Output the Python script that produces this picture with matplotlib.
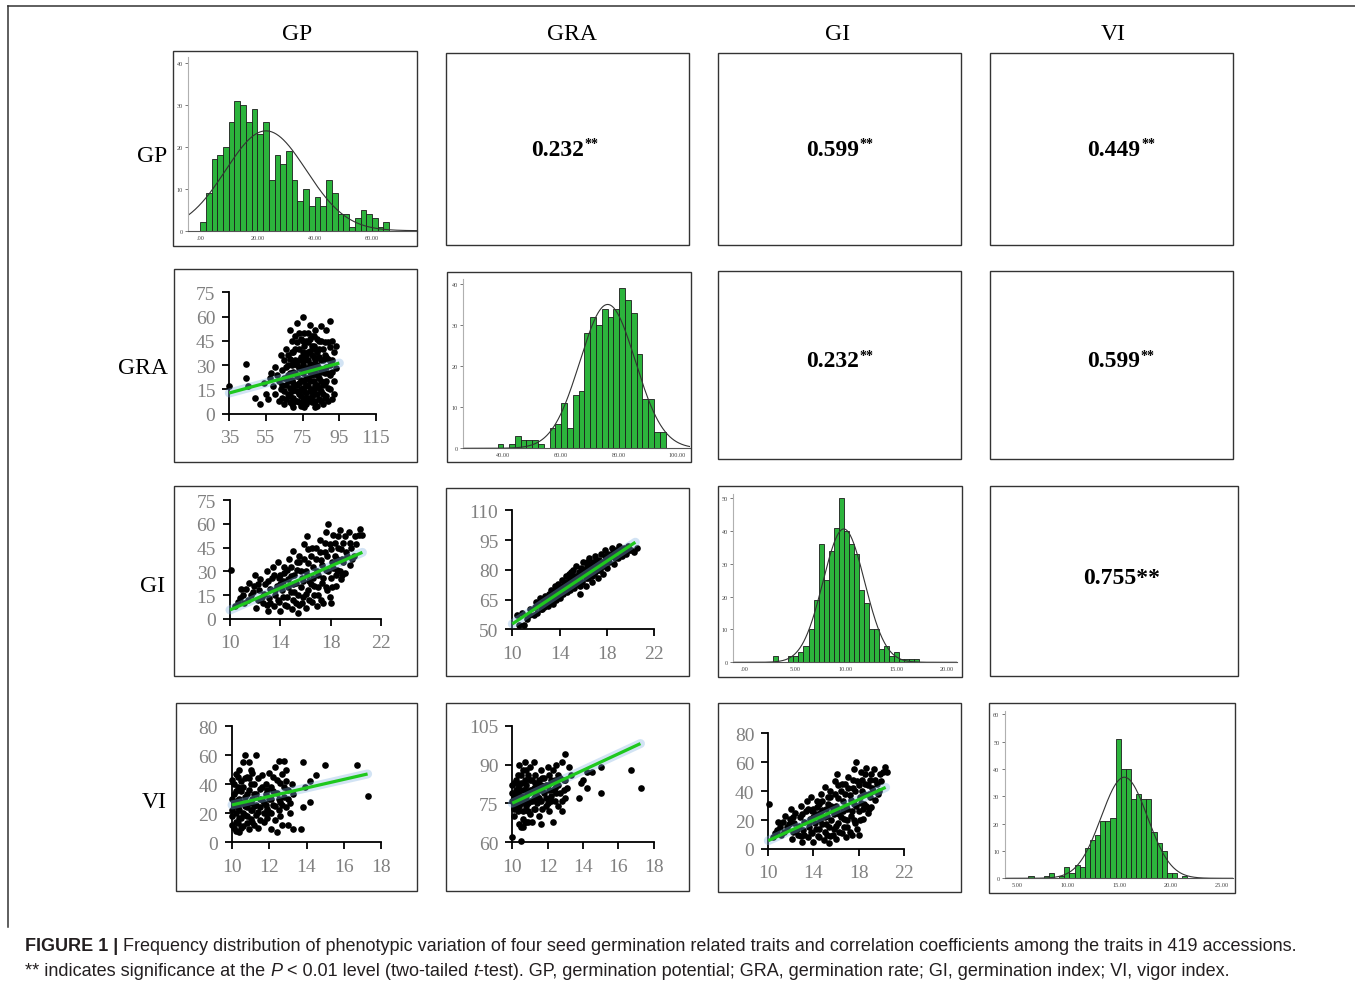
import numpy as np
import matplotlib.pyplot as plt
from matplotlib.patches import Rectangle
from matplotlib.lines import Line2D

# ---------------- data ----------------
traits = ["GP", "GRA", "GI", "VI"]
n_acc = 419

# histograms (counts per bin), bin start, bin width, normal-curve mean / sd
gp_counts = [2, 9, 17, 18, 20, 26, 31, 30, 26, 29, 23, 26, 12, 18, 16, 19, 12, 7, 10, 6,
             8, 6, 12, 9, 4, 4, 1, 3, 5, 4, 3, 1, 2]
gp_start, gp_bw, gp_mu, gp_sd = 0.0, 2.0, 23.0, 14.05

gra_counts = [1, 0, 1, 3, 2, 2, 2, 1, 0, 5, 6, 11, 5, 13, 14, 28, 32, 30, 34, 32, 34, 39,
              36, 33, 23, 12, 12, 4, 4]
gra_start, gra_bw, gra_mu, gra_sd = 38.0, 2.0, 76.0, 9.55

gi_counts = [2, 0, 0, 2, 2, 3, 5, 10, 19, 36, 25, 34, 41, 50, 40, 36, 33, 22, 18, 10,
             10, 4, 5, 2, 3, 1, 1, 1, 1]
gi_start, gi_bw, gi_mu, gi_sd = 2.8, 0.5, 9.8, 2.06

vi_counts = [1, 0, 0, 1, 2, 0, 1, 4, 2, 5, 4, 11, 14, 16, 21, 21, 22, 51, 40, 40, 29, 31,
             29, 29, 17, 13, 10, 2, 2, 0, 1]
vi_start, vi_bw, vi_mu, vi_sd = 6.15, 0.5, 15.5, 2.26

# correlation coefficients (upper triangle)
corr_gp_gra, corr_gp_gi, corr_gp_vi = "0.232", "0.599", "0.449"
corr_gra_gi, corr_gra_vi = "0.232", "0.599"
corr_gi_vi = "0.755"

# scatter points (x, y)
gra_gp_pts = [(35, 17), (44, 31), (44, 22), (45, 17), (49, 10), (52, 6), (54, 19), (55, 12), (56, 9),
              (57, 22), (58, 25), (59, 17), (60, 29), (60, 12), (61, 24), (62, 20), (62, 8), (63, 36),
              (63, 15), (64, 27), (64, 10), (65, 33), (65, 6), (65, 22), (66, 18), (66, 29), (67, 12),
              (67, 36), (67, 24), (68, 7), (68, 52), (68, 16), (69, 30), (69, 21), (69, 45), (70, 10),
              (70, 26), (70, 38), (70, 4), (71, 18), (71, 48), (71, 33), (72, 14), (72, 56), (72, 23),
              (72, 8), (73, 40), (73, 28), (73, 19), (74, 11), (74, 35), (74, 46), (74, 5), (75, 60),
              (75, 25), (75, 16), (75, 31), (76, 42), (76, 9), (76, 20), (76, 50), (77, 13), (77, 36),
              (77, 28), (77, 6), (78, 44), (78, 22), (78, 17), (78, 33), (79, 55), (79, 10), (79, 39),
              (79, 26), (80, 48), (80, 15), (80, 30), (80, 7), (81, 20), (81, 42), (81, 35), (82, 12),
              (82, 52), (82, 25), (82, 4), (83, 38), (83, 18), (83, 30), (84, 45), (84, 9), (84, 22),
              (85, 54), (85, 33), (85, 14), (86, 27), (86, 40), (86, 6), (87, 19), (87, 36), (88, 52),
              (88, 11), (88, 29), (89, 44), (89, 16), (90, 57), (90, 41), (90, 24), (91, 9), (91, 33),
              (92, 20), (93, 42), (93, 28),
              (64, 18), (65, 14), (66, 9), (66, 40), (67, 20), (67, 30), (68, 25), (68, 11), (68, 34),
              (69, 14), (69, 38), (69, 6), (70, 19), (70, 32), (70, 15), (71, 8), (71, 25), (71, 40),
              (72, 30), (72, 18), (72, 44), (73, 12), (73, 33), (73, 7), (73, 50), (74, 21), (74, 28),
              (74, 15), (75, 8), (75, 38), (75, 45), (75, 20), (76, 14), (76, 27), (76, 33), (76, 4),
              (77, 18), (77, 45), (77, 22), (77, 10), (78, 8), (78, 28), (78, 38), (78, 50), (79, 14),
              (79, 20), (79, 31), (79, 46), (80, 24), (80, 36), (80, 11), (80, 42), (81, 7), (81, 15),
              (81, 28), (81, 48), (82, 18), (82, 33), (82, 40), (82, 8), (83, 24), (83, 12), (83, 46),
              (83, 5), (84, 16), (84, 28), (84, 35), (84, 40), (85, 20), (85, 8), (85, 26), (85, 45),
              (86, 12), (86, 33), (86, 18), (87, 25), (87, 10), (87, 44), (88, 20), (88, 35), (89, 8),
              (89, 25), (89, 34), (90, 15), (90, 30), (91, 26), (91, 45), (92, 12), (92, 38)]
gra_gp_trend = ([35, 95], [12.8, 31.3])

gi_gp_pts = [(10.1, 31), (10.4, 8), (10.6, 11), (10.8, 13), (10.9, 19), (11.1, 10), (11.3, 19), (11.5, 23),
             (11.7, 15), (11.9, 21), (12.0, 28), (12.1, 7), (12.2, 12), (12.3, 18), (12.4, 25), (12.6, 10),
             (12.7, 16), (12.8, 22), (12.9, 30), (13.0, 5), (13.1, 13), (13.2, 19), (13.3, 26), (13.4, 33),
             (13.5, 8), (13.6, 15), (13.7, 21), (13.8, 36), (13.9, 11), (14.0, 28), (14.0, 5), (14.1, 18),
             (14.2, 24), (14.3, 33), (14.4, 9), (14.5, 14), (14.6, 20), (14.7, 38), (14.8, 27), (14.9, 6),
             (15.0, 12), (15.0, 43), (15.1, 17), (15.2, 23), (15.3, 31), (15.4, 4), (15.5, 9), (15.5, 36),
             (15.6, 20), (15.7, 26), (15.8, 14), (15.9, 47), (16.0, 30), (16.0, 7), (16.1, 52), (16.2, 18),
             (16.3, 24), (16.4, 40), (16.5, 11), (16.6, 33), (16.7, 21), (16.8, 45), (16.9, 8), (17.0, 28),
             (17.0, 15), (17.1, 50), (17.2, 37), (17.3, 23), (17.4, 10), (17.5, 42), (17.6, 31), (17.7, 18),
             (17.8, 60), (17.9, 47), (18.0, 26), (18.0, 10), (18.1, 36), (18.2, 53), (18.3, 40), (18.4, 21),
             (18.5, 31), (18.6, 45), (18.7, 56), (18.8, 25), (18.9, 38), (19.0, 48), (19.1, 29), (19.2, 42),
             (19.4, 55), (19.5, 34), (19.6, 45), (19.8, 40), (20.0, 47), (20.2, 53), (20.3, 57), (20.5, 53),
             (11.0, 15), (11.4, 12), (11.8, 17), (12.2, 22), (12.5, 14), (12.9, 9), (13.0, 24), (13.2, 10),
             (13.5, 28), (13.6, 18), (13.8, 12), (14.0, 22), (14.2, 14), (14.3, 29), (14.5, 8), (14.6, 25),
             (14.8, 17), (14.8, 33), (15.0, 22), (15.1, 28), (15.2, 10), (15.3, 36), (15.4, 15), (15.6, 30),
             (15.7, 10), (15.8, 24), (15.9, 38), (16.0, 16), (16.1, 28), (16.2, 35), (16.3, 12), (16.4, 22),
             (16.5, 45), (16.6, 26), (16.7, 15), (16.8, 38), (16.9, 30), (17.0, 20), (17.1, 42), (17.2, 12),
             (17.3, 34), (17.4, 26), (17.5, 48), (17.6, 20), (17.7, 40), (17.8, 30), (17.9, 14), (18.0, 44),
             (18.1, 20), (18.2, 32), (18.3, 48), (18.4, 28), (18.5, 38), (18.6, 52), (18.7, 30), (18.8, 44),
             (19.0, 36), (19.1, 52), (19.3, 40), (19.5, 48), (19.7, 38), (19.9, 52), (15.5, 40), (16.2, 44),
             (14.5, 31), (13.9, 26), (17.6, 55), (18.9, 28)]
gi_gp_trend = ([10, 20.5], [5.7, 42.0])

gi_gra_pts = [(10.4, 57), (10.6, 52), (10.8, 58), (11.0, 52), (11.2, 55), (11.5, 60), (11.8, 57), (12.0, 64),
              (12.1, 58), (12.3, 66), (12.4, 60), (12.6, 65), (12.7, 61), (12.8, 67), (13.0, 62), (13.1, 68),
              (13.2, 64), (13.3, 70), (13.4, 63), (13.5, 69), (13.6, 72), (13.7, 65), (13.8, 70), (13.9, 73),
              (14.0, 66), (14.1, 71), (14.2, 75), (14.3, 68), (14.4, 73), (14.5, 77), (14.6, 69), (14.7, 74),
              (14.8, 78), (14.9, 70), (15.0, 76), (15.1, 80), (15.2, 71), (15.3, 77), (15.4, 82), (15.5, 73),
              (15.6, 79), (15.7, 68), (15.8, 81), (15.9, 74), (16.0, 84), (16.1, 78), (16.2, 72), (16.3, 82),
              (16.4, 76), (16.5, 86), (16.6, 80), (16.7, 74), (16.8, 84), (16.9, 78), (17.0, 87), (17.1, 82),
              (17.2, 76), (17.3, 85), (17.4, 80), (17.5, 88), (17.6, 84), (17.7, 78), (17.8, 90), (17.9, 86),
              (18.0, 81), (18.1, 88), (18.2, 84), (18.4, 91), (18.5, 87), (18.6, 83), (18.8, 90), (18.9, 86),
              (19.0, 92), (19.2, 88), (19.4, 91), (19.6, 88), (19.8, 92), (20.0, 90), (20.3, 89), (20.5, 91),
              (14.5, 74), (15.0, 79), (15.5, 77), (16.0, 80), (16.5, 82), (13.5, 66), (14.0, 70), (17.0, 83),
              (15.2, 75), (16.3, 79),
              (11.4, 57), (11.9, 61), (12.2, 63), (12.5, 60), (12.9, 63), (13.2, 67), (13.4, 68), (13.7, 68),
              (13.9, 67), (14.1, 68), (14.3, 72), (14.6, 72), (14.8, 74), (15.0, 73), (15.1, 77), (15.3, 74),
              (15.5, 76), (15.6, 76), (15.8, 78), (15.9, 78), (16.1, 80), (16.2, 76), (16.4, 79), (16.5, 78),
              (16.6, 83), (16.8, 81), (16.9, 82), (17.1, 85), (17.2, 80), (17.4, 83), (17.5, 84), (17.7, 82),
              (17.9, 84), (18.1, 85), (18.3, 87), (18.5, 89), (18.7, 86), (19.1, 90), (19.3, 87), (19.5, 89),
              (19.9, 90), (14.4, 70), (15.7, 72), (16.3, 84), (17.0, 79), (18.0, 87), (13.0, 65), (14.9, 76),
              (16.7, 77), (17.8, 87)]
gi_gra_trend = ([10, 20.4], [52.7, 93.9])

vi_gp_pts = [(10.0, 43), (10.0, 18), (10.1, 33), (10.1, 10), (10.1, 25), (10.2, 47), (10.2, 20), (10.2, 8),
             (10.3, 38), (10.3, 29), (10.3, 13), (10.4, 50), (10.4, 22), (10.4, 7), (10.5, 35), (10.5, 17),
             (10.5, 42), (10.6, 27), (10.6, 11), (10.6, 55), (10.7, 60), (10.7, 31), (10.7, 19), (10.8, 45),
             (10.8, 24), (10.8, 13), (10.9, 55), (10.9, 36), (10.9, 9), (11.0, 40), (11.0, 28), (11.0, 16),
             (11.1, 48), (11.1, 22), (11.2, 33), (11.2, 12), (11.3, 60), (11.3, 26), (11.3, 19), (11.4, 44),
             (11.4, 10), (11.5, 37), (11.5, 24), (11.6, 29), (11.6, 46), (11.7, 20), (11.7, 14), (11.8, 40),
             (11.8, 33), (11.9, 23), (11.9, 17), (12.0, 48), (12.0, 30), (12.1, 38), (12.1, 9), (12.1, 20),
             (12.2, 45), (12.2, 26), (12.3, 52), (12.3, 15), (12.4, 34), (12.4, 7), (12.5, 56), (12.5, 22),
             (12.6, 41), (12.6, 28), (12.7, 47), (12.7, 12), (12.8, 56), (12.8, 31), (12.9, 24), (12.9, 42),
             (13.0, 12), (13.0, 36), (13.1, 27), (13.2, 40), (13.3, 9), (13.3, 33), (13.7, 9), (13.8, 24),
             (13.8, 55), (13.9, 38), (14.2, 28), (14.2, 42), (14.5, 46), (15.0, 53), (16.7, 53), (17.3, 32),
             (10.0, 30), (10.0, 22), (10.0, 12), (10.1, 40), (10.1, 28), (10.2, 35), (10.2, 14), (10.3, 24),
             (10.3, 45), (10.4, 30), (10.4, 17), (10.5, 27), (10.5, 10), (10.6, 20), (10.6, 38), (10.7, 25),
             (10.7, 44), (10.8, 33), (10.8, 18), (10.9, 27), (10.9, 44), (11.0, 22), (11.0, 50), (11.1, 30),
             (11.1, 14), (11.2, 25), (11.2, 40), (11.3, 33), (11.4, 21), (11.5, 30), (11.5, 15), (11.6, 38),
             (11.7, 27), (11.8, 20), (11.8, 26), (11.9, 36), (12.0, 21), (12.1, 30), (12.2, 35), (12.3, 25),
             (12.4, 43), (12.5, 30), (12.6, 18), (12.7, 26), (12.8, 38), (13.0, 30), (13.1, 20), (12.9, 50)]
vi_gp_trend = ([10, 17.28], [25.7, 47.0])

vi_gra_pts = [(10.0, 62), (10.0, 79), (10.1, 75), (10.1, 83), (10.1, 73), (10.2, 80), (10.2, 77), (10.3, 86),
              (10.3, 72), (10.3, 81), (10.4, 67), (10.4, 78), (10.4, 90), (10.5, 60.5), (10.5, 75), (10.5, 83),
              (10.5, 66), (10.6, 80), (10.6, 72), (10.6, 88), (10.7, 68), (10.7, 77), (10.7, 91), (10.8, 82),
              (10.8, 74), (10.8, 68), (10.9, 79), (10.9, 86), (11.0, 71), (11.0, 84), (11.0, 76), (11.1, 80),
              (11.1, 68), (11.2, 91), (11.2, 77), (11.3, 73), (11.3, 86), (11.4, 82), (11.4, 78), (11.5, 70),
              (11.5, 84), (11.6, 76), (11.6, 88), (11.7, 80), (11.7, 73), (11.8, 85), (11.9, 77), (11.9, 82),
              (12.0, 89), (12.0, 75), (12.1, 80), (12.1, 72), (12.2, 84), (12.2, 78), (12.3, 68), (12.3, 88),
              (12.4, 81), (12.4, 76), (12.5, 90), (12.5, 83), (12.6, 74), (12.6, 86), (12.7, 79), (12.8, 91),
              (12.8, 76), (12.9, 84), (13.0, 94), (13.0, 77), (13.1, 81), (13.2, 89), (13.3, 86), (13.8, 77),
              (13.9, 83), (14.0, 84), (14.2, 81), (14.2, 87), (14.5, 87), (15.0, 89), (15.0, 79), (16.7, 88),
              (17.3, 81),
              (10.0, 76), (10.0, 82), (10.1, 78), (10.1, 70), (10.2, 74), (10.2, 84), (10.3, 76), (10.3, 79),
              (10.4, 82), (10.4, 74), (10.5, 78), (10.5, 86), (10.6, 76), (10.6, 69), (10.7, 80), (10.7, 84),
              (10.8, 78), (10.8, 88), (10.9, 75), (10.9, 72), (11.0, 80), (11.0, 89), (11.1, 76), (11.1, 84),
              (11.2, 73), (11.2, 81), (11.3, 79), (11.3, 83), (11.4, 75), (11.5, 80), (11.5, 77), (11.6, 82),
              (11.7, 85), (11.8, 79), (11.9, 74), (12.0, 82), (12.1, 86), (12.2, 76), (12.3, 80), (12.4, 84),
              (12.5, 79), (12.6, 82), (12.7, 85), (12.9, 80), (13.0, 84), (12.8, 72), (11.6, 67), (10.6, 66),
              (10.9, 68)]
vi_gra_trend = ([10, 17.25], [75.1, 98.1])

# VI row / GI column panel shows the same cloud as the GI row / GP column panel
vi_gi_pts = gi_gp_pts
vi_gi_trend = ([10, 20.4], [5.8, 42.6])

# ---------------- layout helpers (pixel coordinates) ----------------
W, H = 1355, 987
fig = plt.figure(figsize=(W / 100, H / 100), dpi=100)
SERIF = "Liberation Serif"
SANS = "Liberation Sans"
GREEN = "#2cb43c"


def px_axes(x0, y0, x1, y1):
    return fig.add_axes([x0 / W, 1 - y1 / H, (x1 - x0) / W, (y1 - y0) / H])


def frame(x0, y0, x1, y1):
    fig.add_artist(Rectangle((x0 / W, 1 - y1 / H), (x1 - x0) / W, (y1 - y0) / H,
                             transform=fig.transFigure, fill=False, ec="#333333", lw=1.0))


def hist_panel(pos, lim, counts, start, bw, mu, sd, xticks, xlabels, yticks):
    ax = px_axes(*pos)
    edges = start + bw * np.arange(len(counts))
    ax.bar(edges, counts, width=bw, align="edge", color=GREEN, edgecolor="#1c1c1c", linewidth=0.6)
    xs = np.linspace(lim[0], lim[1], 400)
    curve = n_acc * bw * np.exp(-0.5 * ((xs - mu) / sd) ** 2) / (sd * np.sqrt(2 * np.pi))
    ax.plot(xs, curve, color="#333333", lw=0.8)
    ax.set_xlim(lim[0], lim[1])
    ax.set_ylim(0, lim[2])
    ax.set_xticks(xticks)
    ax.set_xticklabels(xlabels)
    ax.set_yticks(yticks)
    ax.set_yticklabels([str(v) for v in yticks])
    for s in ["top", "right"]:
        ax.spines[s].set_visible(False)
    ax.spines["left"].set_color("#b0b0b0")
    ax.spines["bottom"].set_color("#555555")
    ax.spines["left"].set_linewidth(0.8)
    ax.spines["bottom"].set_linewidth(0.8)
    ax.tick_params(axis="both", labelsize=4.5, length=2.5, width=0.5, pad=1.5, colors="#444444")
    ax.tick_params(axis="x", length=0, pad=3)
    for lab in ax.get_xticklabels() + ax.get_yticklabels():
        lab.set_fontfamily(SERIF)
    ax.patch.set_alpha(0)
    return ax


def scatter_panel(pos, lim, pts, trend, xticks, yticks):
    ax = px_axes(*pos)
    pts = np.array(pts)
    ax.scatter(pts[:, 0], pts[:, 1], s=23, color="black", linewidths=0, clip_on=False, zorder=2)
    ax.plot(trend[0], trend[1], color="#7fb0e0", alpha=0.35, lw=6.5, solid_capstyle="round",
            clip_on=False, zorder=3)
    ax.plot(trend[0], trend[1], color="#1ec81e", lw=2.3, solid_capstyle="butt", clip_on=False, zorder=4)
    ax.set_xlim(lim[0], lim[1])
    ax.set_ylim(lim[2], lim[3])
    ax.set_xticks(xticks)
    ax.set_yticks(yticks)
    for s in ["top", "right"]:
        ax.spines[s].set_visible(False)
    for s in ["left", "bottom"]:
        ax.spines[s].set_linewidth(1.3)
        ax.spines[s].set_color("black")
    ax.tick_params(axis="both", direction="out", length=5, width=1.3, labelsize=14,
                   labelcolor="#808080")
    ax.tick_params(axis="y", pad=5)
    ax.tick_params(axis="x", pad=6)
    for lab in ax.get_xticklabels() + ax.get_yticklabels():
        lab.set_fontfamily(SERIF)
    ax.patch.set_alpha(0)
    return ax


def corr_text(cx, cy, value, stars_super=True):
    t = fig.text(cx / W, 1 - cy / H, value, fontsize=17, fontweight="bold", family=SERIF,
                 ha="center", va="center")
    if stars_super:
        plt.annotate("**", xy=(1, 0.78), xycoords=t, xytext=(0.3, 0), textcoords="offset points",
                     fontsize=10, fontweight="bold", family=SERIF, ha="left", va="center")
    return t


# ---------------- outer frame ----------------
fig.add_artist(Line2D([8 / W, 1], [1 - 7 / H, 1 - 7 / H], transform=fig.transFigure, color="#333333", lw=1.1))
fig.add_artist(Line2D([8 / W, 8 / W], [1 - 7 / H, 1 - 928 / H], transform=fig.transFigure, color="#333333", lw=1.1))

# ---------------- header / row labels ----------------
for name, x in zip(traits, [297, 572, 838, 1113]):
    fig.text(x / W, 1 - 35 / H, name, fontsize=17, family=SERIF, ha="center", va="center")
for name, (x, y) in zip(traits, [(152, 157), (143, 369), (153, 587), (154, 803)]):
    fig.text(x / W, 1 - y / H, name, fontsize=17, family=SERIF, ha="center", va="center")

# ---------------- cell frames ----------------
boxes = [
    (173, 52, 417, 247), (446, 54, 689, 246), (718, 54, 961, 246), (990, 54, 1233, 246),
    (174, 270, 417, 463), (447, 273, 691, 463), (718, 272, 961, 460), (990, 272, 1233, 460),
    (174, 487, 417, 677), (446, 489, 689, 677), (718, 487, 962, 678), (990, 487, 1238, 677),
    (176, 704, 417, 892), (446, 704, 689, 892), (718, 704, 961, 893), (989, 704, 1235, 894),
]
for b in boxes:
    frame(*b)

# ---------------- diagonal histograms ----------------
hist_panel((188.3, 58, 416.7, 231.7), (-4.1, 75.6, 41.4), gp_counts, gp_start, gp_bw, gp_mu, gp_sd,
           [0, 20, 40, 60], [".00", "20.00", "40.00", "60.00"], [0, 10, 20, 30, 40])
hist_panel((463.3, 280, 690, 449.3), (26.2, 104.4, 41.2), gra_counts, gra_start, gra_bw, gra_mu, gra_sd,
           [40, 60, 80, 100], ["40.00", "60.00", "80.00", "100.00"], [0, 10, 20, 30, 40])
hist_panel((733.3, 495, 956.7, 663.3), (-1.16, 21.0, 51.2), gi_counts, gi_start, gi_bw, gi_mu, gi_sd,
           [0, 5, 10, 15, 20], [".00", "5.00", "10.00", "15.00", "20.00"], [0, 10, 20, 30, 40, 50])
hist_panel((1005, 712, 1233, 879.3), (3.86, 26.1, 61.2), vi_counts, vi_start, vi_bw, vi_mu, vi_sd,
           [5, 10, 15, 20, 25], ["5.00", "10.00", "15.00", "20.00", "25.00"], [0, 10, 20, 30, 40, 50, 60])

# ---------------- lower-triangle scatter plots ----------------
scatter_panel((229.3, 293.3, 376, 414.7), (35, 115, 0, 75), gra_gp_pts, gra_gp_trend,
              [35, 55, 75, 95, 115], [0, 15, 30, 45, 60, 75])
scatter_panel((230, 501, 381.3, 620), (10, 22, 0, 75), gi_gp_pts, gi_gp_trend,
              [10, 14, 18, 22], [0, 15, 30, 45, 60, 75])
scatter_panel((512.3, 511.3, 654.3, 630.3), (10, 22, 50, 110), gi_gra_pts, gi_gra_trend,
              [10, 14, 18, 22], [50, 65, 80, 95, 110])
scatter_panel((232, 727, 381, 843.3), (10, 18, 0, 80), vi_gp_pts, vi_gp_trend,
              [10, 12, 14, 16, 18], [0, 20, 40, 60, 80])
scatter_panel((512.3, 726.7, 653.7, 843.3), (10, 18, 60, 105), vi_gra_pts, vi_gra_trend,
              [10, 12, 14, 16, 18], [60, 75, 90, 105])
scatter_panel((768.3, 734.3, 903.7, 850), (10, 22, 0, 80), vi_gi_pts, vi_gi_trend,
              [10, 14, 18, 22], [0, 20, 40, 60, 80])

# ---------------- upper-triangle correlation coefficients ----------------
corr_text(558, 150, corr_gp_gra)
corr_text(833, 150, corr_gp_gi)
corr_text(1114, 150, corr_gp_vi)
corr_text(833, 362, corr_gra_gi)
corr_text(1114, 362, corr_gra_vi)
corr_text(1122, 579, corr_gi_vi + "**", stars_super=False)

# ---------------- caption ----------------
renderer = fig.canvas.get_renderer()


def write_runs(x, y, runs, size=13):
    for s, kw in runs:
        t = fig.text(x / W, 1 - y / H, s, fontsize=size, family=SANS, color="#231f20",
                     ha="left", va="baseline", **kw)
        x += t.get_window_extent(renderer=renderer).width


write_runs(25, 951, [
    ("FIGURE 1 | ", {"fontweight": "bold"}),
    ("Frequency distribution of phenotypic variation of four seed germination related traits and "
     "correlation coefficients among the traits in 419 accessions.", {}),
])
write_runs(25, 976, [
    ("** indicates significance at the ", {}),
    ("P", {"fontstyle": "italic"}),
    (" < 0.01 level (two-tailed ", {}),
    ("t", {"fontstyle": "italic"}),
    ("-test). GP, germination potential; GRA, germination rate; GI, germination index; VI, vigor index.", {}),
])

fig.savefig("out.png", dpi=100)
